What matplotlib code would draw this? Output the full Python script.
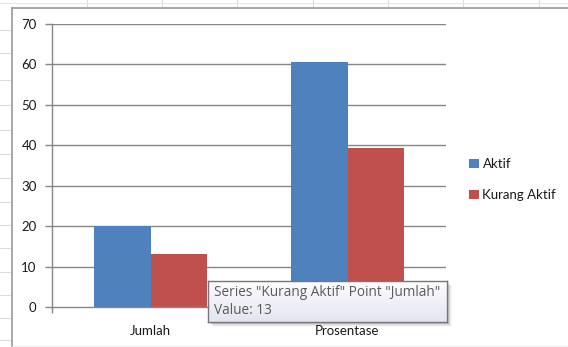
import numpy as np
import matplotlib
matplotlib.use("Agg")
import matplotlib.pyplot as plt
from matplotlib.lines import Line2D
from matplotlib.patches import Rectangle

# data
categories = ["Jumlah", "Prosentase"]
series_names = ["Aktif", "Kurang Aktif"]
aktif = [20, 60.6]
kurang_aktif = [13, 39.4]
y_ticks = [0, 10, 20, 30, 40, 50, 60, 70]

colors = ["#4F81BD", "#C0504D"]
W, H = 568, 347
DPI = 100

plt.rcParams["font.family"] = ["Lato", "DejaVu Sans"]

fig = plt.figure(figsize=(W / DPI, H / DPI), dpi=DPI)
fig.patch.set_facecolor("white")


def fx(x):
    return x / W


def fy(y):
    return 1 - y / H


def rect(x0, y0, x1, y1):
    return [fx(x0), fy(y1), fx(x1) - fx(x0), fy(y0) - fy(y1)]


# spreadsheet cell grid around the chart object
grid_c = "#dadcdd"
for x in [87, 162, 237, 313, 388, 463, 539]:
    fig.add_artist(Line2D([fx(x), fx(x)], [fy(0), fy(7)], color=grid_c, lw=0.8))
fig.add_artist(Line2D([0, 1], [fy(2.5), fy(2.5)], color="#e6e6e6", lw=0.8))
for y in [30, 53, 80, 105, 130, 154, 178, 202, 225, 248, 272, 295, 318, 340]:
    fig.add_artist(Line2D([0, fx(10)], [fy(y), fy(y)], color=grid_c, lw=0.8))

# chart object frame
fig.add_artist(Line2D([fx(11.5), fx(11.5)], [fy(7.5), 0], color="#a0a0a0", lw=1.3))
fig.add_artist(Line2D([fx(11.5), 1], [fy(7.5), fy(7.5)], color="#a0a0a0", lw=1.3))
fig.add_artist(Line2D([fx(12), 1], [fy(345.5), fy(345.5)], color="#ececec", lw=0.8))

# plot area
ax = fig.add_axes(rect(52, 24, 446, 307))
ax.set_xlim(-0.5, 1.5)
ax.set_ylim(0, 70)
x = np.arange(len(categories))
bw = 0.287
ax.bar(x - bw / 2, aktif, width=bw, color=colors[0], zorder=3, label=series_names[0])
ax.bar(x + bw / 2, kurang_aktif, width=bw, color=colors[1], zorder=3, label=series_names[1])

gc = "#878787"
for v in y_ticks[1:]:
    ax.axhline(v, color=gc, lw=1.0, zorder=1)
for s in ["top", "right"]:
    ax.spines[s].set_visible(False)
for s in ["left", "bottom"]:
    ax.spines[s].set_color(gc)
    ax.spines[s].set_linewidth(1.0)
    ax.spines[s].set_zorder(4)

ax.set_yticks(y_ticks)
ax.set_yticklabels([str(v) for v in y_ticks])
ax.tick_params(axis="y", length=5, width=1.0, color=gc, pad=6,
               labelsize=9.5, labelcolor="#1a1a1a")
ax.set_xticks([-0.5, 0.5, 1.5])
ax.set_xticklabels(["", "", ""])
ax.set_xticks(x, minor=True)
ax.set_xticklabels(categories, minor=True)
ax.tick_params(axis="x", which="major", length=4, width=1.0, color=gc)
ax.tick_params(axis="x", which="minor", length=0, pad=13,
               labelsize=9.5, labelcolor="#1a1a1a")
ax.set_facecolor("none")

# legend
leg = fig.legend(loc="upper left", bbox_to_anchor=(fx(464), fy(153)),
                 frameon=False, fontsize=9.5, handlelength=0.7, handleheight=0.7,
                 handletextpad=0.3, labelspacing=1.4, borderaxespad=0)
for t in leg.get_texts():
    t.set_color("#1a1a1a")

# hover tooltip with soft drop shadow
tx0, ty0, tx1, ty1 = 208, 281, 447, 322
for i, a in enumerate([0.10, 0.07, 0.05, 0.03]):
    fig.add_artist(Rectangle((fx(tx0 + 2 + i), fy(ty1 + 2 + i)),
                             fx(tx1 - tx0), fy(ty0) - fy(ty1),
                             facecolor="black", alpha=a, edgecolor="none",
                             zorder=5))
tip = fig.add_axes(rect(tx0, ty0, tx1, ty1))
tip.set_zorder(10)
grad = np.linspace(0, 1, 64)[:, None]
top_c = np.array([0.995, 0.995, 1.0])
bot_c = np.array([0.89, 0.895, 0.94])
img = top_c[None, None, :] * (1 - grad[..., None]) + bot_c[None, None, :] * grad[..., None]
img = np.repeat(img, 2, axis=1)
tip.imshow(img, aspect="auto", extent=(0, 1, 0, 1), origin="upper")
tip.set_xlim(0, 1)
tip.set_ylim(0, 1)
tip.set_xticks([])
tip.set_yticks([])
for s in tip.spines.values():
    s.set_color("#767676")
    s.set_linewidth(1.0)
tip_font = ["Open Sans", "DejaVu Sans"]
tip.text(0.025, 0.72, f'Series "{series_names[1]}" Point "{categories[0]}"',
         transform=tip.transAxes, va="center", ha="left",
         fontsize=9.8, color="#5a5a5a", family=tip_font)
tip.text(0.025, 0.27, f"Value: {kurang_aktif[0]}",
         transform=tip.transAxes, va="center", ha="left",
         fontsize=9.8, color="#5a5a5a", family=tip_font)

fig.savefig("out.png", dpi=DPI)
